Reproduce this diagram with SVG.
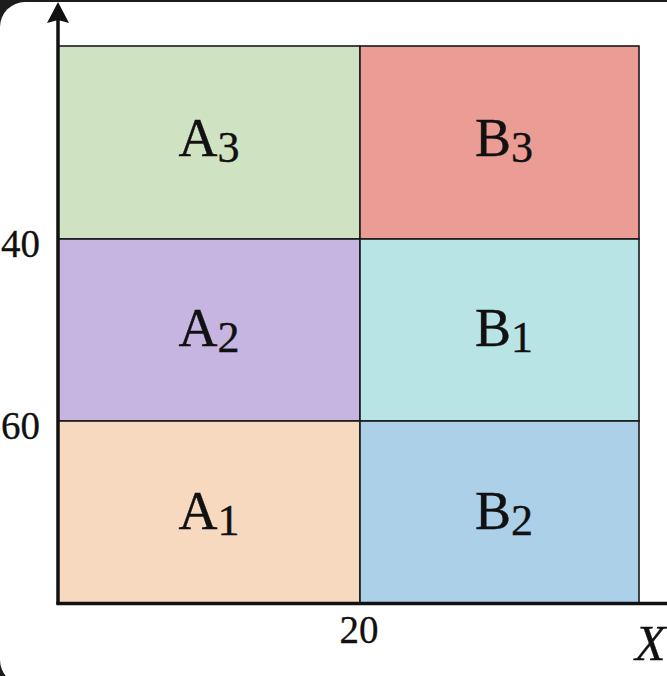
<svg xmlns="http://www.w3.org/2000/svg" width="667" height="676" viewBox="0 0 667 676">
<style>
.cell{stroke:#1a1a1a;stroke-width:1.6}
.lbl{font-family:"Liberation Serif","DejaVu Serif",serif;font-size:54px;fill:#111;text-anchor:middle;stroke:#111;stroke-width:0.4}
.sub{font-size:44px}
.tick{font-family:"Liberation Serif","DejaVu Serif",serif;font-size:39px;fill:#111;stroke:#111;stroke-width:0.3}
.axis{stroke:#111;stroke-width:3.5;fill:none}
</style>
<rect x="0" y="0" width="667" height="676" fill="#1c1c1c"/>
<rect x="0" y="2" width="705" height="683" rx="25" ry="25" fill="#ffffff"/>
<g id="A3"><rect class="cell" x="58" y="46" width="302" height="193" fill="#cfe3c3"/><text class="lbl" x="209" y="156">A<tspan class="sub" dy="6">3</tspan></text></g>
<g id="B3"><rect class="cell" x="360" y="46" width="279" height="193" fill="#eb9c94"/><text class="lbl" x="504" y="156">B<tspan class="sub" dy="6">3</tspan></text></g>
<g id="A2"><rect class="cell" x="58" y="239" width="302" height="182" fill="#c5b5e0"/><text class="lbl" x="209" y="346">A<tspan class="sub" dy="6">2</tspan></text></g>
<g id="B1"><rect class="cell" x="360" y="239" width="279" height="182" fill="#b9e4e6"/><text class="lbl" x="504" y="346">B<tspan class="sub" dy="6">1</tspan></text></g>
<g id="A1"><rect class="cell" x="58" y="421" width="302" height="183" fill="#f6d9bf"/><text class="lbl" x="209" y="529">A<tspan class="sub" dy="6">1</tspan></text></g>
<g id="B2"><rect class="cell" x="360" y="421" width="279" height="183" fill="#abd0e8"/><text class="lbl" x="504" y="529">B<tspan class="sub" dy="6">2</tspan></text></g>
<g id="connectors">
<line class="axis" x1="58" y1="604" x2="58" y2="20"/>
<polygon points="58,2 47,23 58,20 69,23" fill="#111"/>
<line class="axis" x1="56.3" y1="603.5" x2="690" y2="603.5"/>
</g>
<g id="ticks">
<text class="tick" x="40" y="257" text-anchor="end">40</text>
<text class="tick" x="40" y="439" text-anchor="end">60</text>
<text class="tick" x="359" y="643" text-anchor="middle">20</text>
<text class="tick" x="635" y="660" style="font-style:italic;font-size:50px">X</text>
</g>
</svg>
